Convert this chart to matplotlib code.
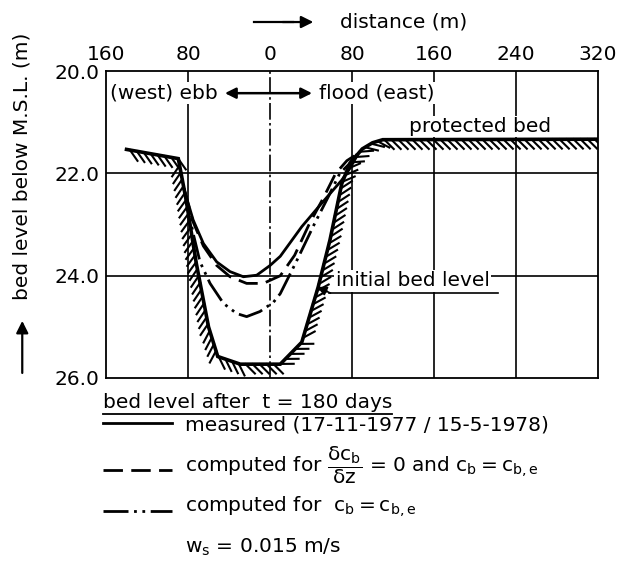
import matplotlib
matplotlib.use("Agg")
import matplotlib.pyplot as plt
import matplotlib.patheffects as pe
from matplotlib.lines import Line2D
from matplotlib.patches import FancyArrowPatch

plt.rcParams['font.family'] = ['DejaVu Sans']
plt.rcParams['mathtext.fontset'] = 'dejavusans'
plt.rcParams['mathtext.default'] = 'regular'

# distance (m), negative = west ; bed level below M.S.L. (m)
bed_x = [-140, -89.5, -82, -72, -60, -51, -29, 10, 31, 47, 58.5, 70, 78, 90, 100, 110, 320]
bed_y = [21.53, 21.71, 22.5, 23.75, 25.0, 25.58, 25.73, 25.73, 25.3, 24.22, 23.3, 22.2, 21.8, 21.52, 21.4, 21.34, 21.33]

meas_x = [-84, -75, -65, -52, -39, -26, -13, 0, 10, 31, 48.8, 70, 78, 85]
meas_y = [22.3, 22.91, 23.37, 23.73, 23.92, 24.02, 23.99, 23.8, 23.62, 23.04, 22.62, 22.13, 21.9, 21.65]

dash_x = [-84, -75, -65, -52, -39, -22.8, -6.5, 10, 24, 38, 52, 64, 75, 85]
dash_y = [22.3, 22.95, 23.42, 23.8, 24.02, 24.15, 24.15, 24.0, 23.6, 23.0, 22.48, 22.0, 21.75, 21.62]

dd_x = [-84, -75, -68.3, -58.5, -45.5, -32.5, -22.8, -9.8, 3.3, 10, 25, 43, 57, 68, 78, 85]
dd_y = [22.3, 23.17, 23.73, 24.15, 24.54, 24.74, 24.8, 24.7, 24.52, 24.35, 23.75, 23.0, 22.45, 22.0, 21.8, 21.62]

xticks = [-160, -80, 0, 80, 160, 240, 320]
xtick_labels = ['160', '80', '0', '80', '160', '240', '320']
yticks = [20, 22, 24, 26]
ytick_labels = ['20.0', '22.0', '24.0', '26.0']

FS = 14.5
DD = (9, 2, 1, 2, 1, 2)

fig = plt.figure(figsize=(6.36, 5.65), dpi=100)
ax = fig.add_axes([0.1667, 0.331, 0.7736, 0.543])
ax.set_xlim(-160, 320)
ax.set_ylim(26, 20)

for s in ax.spines.values():
    s.set_linewidth(1.3)
ax.xaxis.tick_top()
ax.set_xticks(xticks)
ax.set_xticklabels(xtick_labels, fontsize=FS)
ax.set_yticks(yticks)
ax.set_yticklabels(ytick_labels, fontsize=FS)
ax.tick_params(length=0, pad=5)

# grid
for gx in [-80, 80, 160, 240]:
    ax.axvline(gx, color='black', lw=1.2, zorder=1)
ax.axvline(0, color='black', lw=1.2, dashes=(10, 2, 1.5, 2), zorder=1)
for gy in [22, 24]:
    ax.axhline(gy, color='black', lw=1.2, zorder=1)

# curves
ax.plot(bed_x, bed_y, color='black', lw=2.6, solid_joinstyle='miter', zorder=4,
        path_effects=[pe.withTickedStroke(angle=-45, spacing=5, length=1.9, linewidth=1.5)])
ax.plot(meas_x, meas_y, color='black', lw=2.0, zorder=5)
ax.plot(dash_x, dash_y, color='black', lw=2.0, dashes=(7, 3), zorder=5)
ax.plot(dd_x, dd_y, color='black', lw=2.0, dashes=DD, zorder=5)

# labels inside plot
box = dict(facecolor='white', edgecolor='none', pad=1)
ax.text(-156, 20.43, '(west) ebb', fontsize=FS, va='center', ha='left', bbox=box, zorder=3)
ax.text(48, 20.43, 'flood (east)', fontsize=FS, va='center', ha='left', bbox=box, zorder=3)
ax.annotate('', xy=(-44, 20.43), xytext=(41, 20.43),
            arrowprops=dict(arrowstyle='<|-|>', color='black', lw=1.8,
                            mutation_scale=16, shrinkA=0, shrinkB=0), zorder=6)
ax.text(136, 21.08, 'protected bed', fontsize=FS, va='center', ha='left', bbox=box, zorder=3)
ax.text(64, 24.1, 'initial bed level', fontsize=FS, va='center', ha='left', bbox=box, zorder=3)
ax.plot([58, 222], [24.34, 24.34], color='black', lw=1.2, zorder=6)
ax.annotate('', xy=(46, 24.22), xytext=(59, 24.34),
            arrowprops=dict(arrowstyle='-|>', color='black', lw=1.2,
                            mutation_scale=14, shrinkA=0, shrinkB=0), zorder=6)

# outer labels
fig.text(0.535, 0.961, 'distance (m)', fontsize=FS, va='center', ha='left')
fig.add_artist(Line2D([0.40, 0.46], [0.961, 0.961], color='black', lw=1.6))
fig.patches.append(FancyArrowPatch(
    (0.44, 0.961), (0.497, 0.961), transform=fig.transFigure, figure=fig,
    arrowstyle='-|>', mutation_scale=18, color='black', lw=1.6))
fig.text(0.035, 0.705, 'bed level below M.S.L. (m)', fontsize=FS, rotation=90,
         va='center', ha='center')
fig.patches.append(FancyArrowPatch(
    (0.035, 0.335), (0.035, 0.437), transform=fig.transFigure, figure=fig,
    arrowstyle='-|>', mutation_scale=18, color='black', lw=1.6))

# legend block
x0, x1, xt = 0.162, 0.270, 0.291
head = fig.text(x0, 0.287, 'bed level after  t = 180 days', fontsize=FS, va='center', ha='left')
fig.add_artist(Line2D([x0, x1], [0.251, 0.251], color='black', lw=2.0))
fig.text(xt, 0.248, 'measured (17-11-1977 / 15-5-1978)', fontsize=FS, va='center', ha='left')
fig.add_artist(Line2D([x0, x1], [0.169, 0.169], color='black', lw=2.0, dashes=(7, 3)))
fig.text(xt, 0.177, r'computed for $\dfrac{\delta c_b}{\delta z}$ = 0 and $c_b = c_{b,e}$',
         fontsize=FS, va='center', ha='left')
fig.add_artist(Line2D([x0, x1], [0.096, 0.096], color='black', lw=2.0, dashes=DD))
fig.text(xt, 0.103, r'computed for  $c_b = c_{b,e}$', fontsize=FS, va='center', ha='left')
fig.text(xt, 0.032, r'$w_s$ = 0.015 m/s', fontsize=FS, va='center', ha='left')

fig.canvas.draw()
bb = head.get_window_extent().transformed(fig.transFigure.inverted())
fig.add_artist(Line2D([bb.x0, bb.x1], [bb.y0 - 0.003, bb.y0 - 0.003], color='black', lw=1.3))

fig.savefig('out.png', dpi=100)
